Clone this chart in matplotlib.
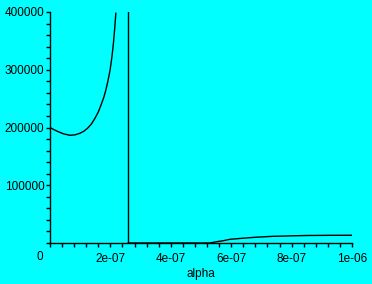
import matplotlib
matplotlib.use('Agg')
from matplotlib import pyplot as plt
from matplotlib.ticker import MultipleLocator

# left branch (before the pole)
left_alpha = [0.0, 1.4e-8, 2.75e-8, 4.5e-8, 6.6e-8, 8.3e-8, 9.9e-8, 1.12e-7, 1.24e-7, 1.37e-7,
              1.49e-7, 1.60e-7, 1.69e-7, 1.78e-7, 1.85e-7, 1.92e-7, 1.99e-7, 2.05e-7, 2.10e-7, 2.14e-7, 2.18e-7]
left_vals = [200000, 196000, 192700, 189000, 186500, 187300, 190000, 193500, 198600, 206000,
             216000, 227000, 239000, 252000, 265000, 281000, 299600, 322000, 345800, 370000, 397800]

# vertical jump at the pole
pole_alpha = [2.59e-7, 2.59e-7]
pole_vals = [0, 400000]

# right branch (after the pole, clipped below at 0)
right_alpha = [2.59e-7, 5.3e-7, 5.52e-7, 5.74e-7, 5.96e-7, 6.35e-7, 6.79e-7, 7.39e-7, 8.5e-7, 9.27e-7, 1.0e-6]
right_vals = [0, 0, 2250, 4000, 6400, 8100, 9900, 11600, 13000, 13300, 13400]

plt.rcParams['font.family'] = 'Liberation Sans'
fig = plt.figure(figsize=(3.72, 2.84), dpi=100, facecolor='#00ffff')
ax = fig.add_axes([50/372, 41/284, 302/372, 231/284])
ax.set_facecolor('#00ffff')

ax.plot(left_alpha, left_vals, color='black', lw=1)
ax.plot(pole_alpha, pole_vals, color='black', lw=1)
ax.plot(right_alpha, right_vals, color='black', lw=1)

ax.set_xlim(0, 1e-6)
ax.set_ylim(0, 400000)
for s in ['top', 'right']:
    ax.spines[s].set_visible(False)
ax.spines['left'].set_linewidth(1)
ax.spines['bottom'].set_linewidth(1)

ax.set_xticks([2e-7, 4e-7, 6e-7, 8e-7, 1e-6])
ax.set_xticklabels(['2e-07', '4e-07', '6e-07', '8e-07', '1e-06'])
ax.xaxis.set_minor_locator(MultipleLocator(4e-8))
ax.set_yticks([100000, 200000, 300000, 400000])
ax.set_yticklabels(['100000', '200000', '300000', '400000'])
ax.yaxis.set_minor_locator(MultipleLocator(20000))
ax.tick_params(which='both', direction='out', length=3, width=1, labelsize=8.5)
ax.tick_params(axis='x', pad=4)
ax.tick_params(axis='y', pad=1)
ax.text(-10/302, -14/231, '0', transform=ax.transAxes, fontsize=8.5, ha='center', va='center')

ax.set_xlabel('alpha', fontsize=8.5, labelpad=2)

fig.savefig('out.png', dpi=100, facecolor='#00ffff')
